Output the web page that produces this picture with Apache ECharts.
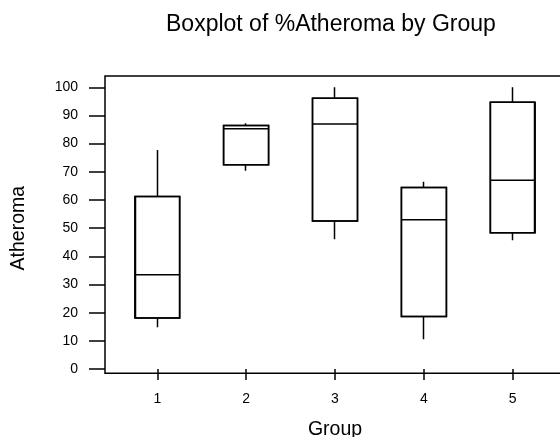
<!DOCTYPE html>
<html>
<head>
<meta charset="utf-8">
<script src="https://cdn.jsdelivr.net/npm/echarts@6/dist/echarts.min.js"></script>
<style>
  html, body { margin: 0; padding: 0; background: #fff; }
  #chart { width: 560px; height: 437px; }
</style>
</head>
<body>
<div id="chart"></div>
<script>
// Boxplot of %Atheroma by Group
const groups = ['1', '2', '3', '4', '5'];
const whiskerLow = [14.8, 70.4, 46.1, 10.6, 45.7];
const q1 = [18.1, 72.5, 52.5, 18.6, 48.4];
const median = [33.5, 85.3, 87.0, 53.0, 67.0];
const q3 = [61.2, 86.4, 96.1, 64.4, 94.7];
const whiskerHigh = [77.7, 87.2, 100, 66.5, 100];
const yTicks = [0, 10, 20, 30, 40, 50, 60, 70, 80, 90, 100];

const font = 'Liberation Sans, Arial, sans-serif';
const lw = 1.5;

// candlestick gives box + whiskers without caps, boxplot adds the median line
const candleData = groups.map((g, i) => [q1[i], q3[i], whiskerLow[i], whiskerHigh[i]]);
const boxData = groups.map((g, i) => [q1[i], q1[i], median[i], q3[i], q3[i]]);

const chart = echarts.init(document.getElementById('chart'), null, {renderer: 'canvas'});

const option = {
  backgroundColor: '#fff',
  animation: false,
  title: {
    text: 'Boxplot of %Atheroma by Group',
    left: 166,
    top: 13,
    padding: 0,
    textStyle: {fontFamily: font, fontSize: 23, fontWeight: 'normal', color: '#000'}
  },
  grid: [
    // data area
    {left: 112.9, top: 87.3, width: 444.2, height: 281.7, outerBoundsMode: 'none', containLabel: false},
    // frame
    {left: 105, top: 76, width: 460, height: 297.3, outerBoundsMode: 'none', containLabel: false,
      show: true, borderColor: '#000', borderWidth: lw, backgroundColor: 'transparent'}
  ],
  xAxis: [
    {
      gridIndex: 0,
      type: 'category',
      data: groups,
      offset: 4.3,
      name: 'Group',
      nameLocation: 'middle',
      nameGap: 46,
      nameTextStyle: {fontFamily: font, fontSize: 19.5, color: '#000'},
      axisLine: {show: false},
      axisTick: {show: true, alignWithLabel: true, length: 11, lineStyle: {color: '#000', width: lw}},
      axisLabel: {margin: 19, fontFamily: font, fontSize: 14, color: '#000'},
      splitLine: {show: false}
    },
    {gridIndex: 1, type: 'value', show: false}
  ],
  yAxis: [
    {
      gridIndex: 0,
      type: 'value',
      min: 0,
      max: 100,
      interval: 10,
      offset: 7.9,
      name: 'Atheroma',
      nameLocation: 'middle',
      nameGap: 76,
      nameTextStyle: {fontFamily: font, fontSize: 19.5, color: '#000'},
      axisLine: {show: false},
      axisTick: {show: true, length: 16, lineStyle: {color: '#000', width: lw}},
      axisLabel: {
        margin: 27,
        fontFamily: font,
        fontSize: 14,
        color: '#000',
        formatter: v => (yTicks.indexOf(v) >= 0 ? String(v) : '')
      },
      splitLine: {show: false}
    },
    {gridIndex: 1, type: 'value', show: false}
  ],
  series: [
    {
      name: 'whiskers',
      type: 'candlestick',
      xAxisIndex: 0,
      yAxisIndex: 0,
      barWidth: 45,
      data: candleData,
      itemStyle: {color: '#fff', color0: '#fff', borderColor: '#000', borderColor0: '#000', borderWidth: lw},
      emphasis: {disabled: true},
      z: 2
    },
    {
      name: 'box',
      type: 'boxplot',
      xAxisIndex: 0,
      yAxisIndex: 0,
      boxWidth: [45, 45],
      data: boxData,
      itemStyle: {color: 'transparent', borderColor: '#000', borderWidth: lw},
      emphasis: {disabled: true},
      z: 3
    }
  ]
};

chart.setOption(option);
</script>
</body>
</html>
